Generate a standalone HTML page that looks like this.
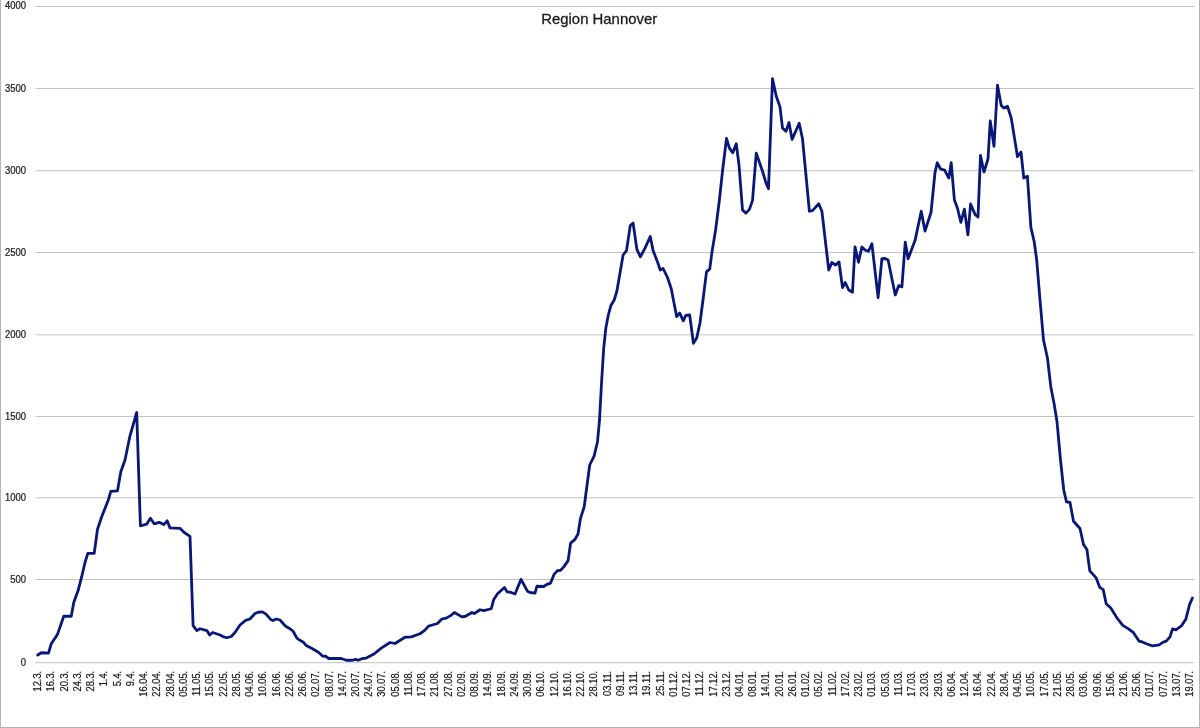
<!DOCTYPE html>
<html lang="de">
<head>
<meta charset="utf-8">
<title>Region Hannover</title>
<style>
html,body{margin:0;padding:0;background:#fff;}
body{width:1200px;height:728px;overflow:hidden;font-family:"Liberation Sans",sans-serif;}
svg{display:block;}
.g{fill:#c3c3c3;}
.yl{font-family:"Liberation Sans",sans-serif;font-size:10.7px;fill:#1c1c1c;stroke:#1c1c1c;stroke-width:0.25;text-anchor:end;}
.xl{font-family:"Liberation Sans",sans-serif;font-size:10.2px;fill:#1c1c1c;stroke:#1c1c1c;stroke-width:0.25;text-anchor:end;}
.t{font-family:"Liberation Sans",sans-serif;font-size:14.3px;fill:#1c1c1c;stroke:#1c1c1c;stroke-width:0.3;text-anchor:middle;}
</style>
</head>
<body>
<svg width="1200" height="728" viewBox="0 0 1200 728">
<rect x="0" y="0" width="1200" height="728" fill="#ffffff"/>
<g id="border">
<rect x="0" y="0" width="1" height="728" fill="#b4b4b4"/>
<rect x="1199" y="0" width="1" height="728" fill="#b4b4b4"/>
<rect x="0" y="727" width="1200" height="1" fill="#b4b4b4"/>
</g>
<g id="grid">
<rect class="g" x="35.5" y="6.00" width="1158.5" height="1"/>
<rect class="g" x="35.5" y="88.00" width="1158.5" height="1"/>
<rect class="g" x="35.5" y="170.25" width="1158.5" height="1"/>
<rect class="g" x="35.5" y="252.00" width="1158.5" height="1"/>
<rect class="g" x="35.5" y="334.35" width="1158.5" height="1"/>
<rect class="g" x="35.5" y="416.00" width="1158.5" height="1"/>
<rect class="g" x="35.5" y="497.25" width="1158.5" height="1"/>
<rect class="g" x="35.5" y="579.00" width="1158.5" height="1"/>
<rect class="g" x="35.5" y="662.20" width="1158.5" height="1"/>
</g>
<g id="ylabels">
<text class="yl" transform="translate(26 9.2) scale(0.885 1)">4000</text>
<text class="yl" transform="translate(26 91.8) scale(0.885 1)">3500</text>
<text class="yl" transform="translate(26 174.1) scale(0.885 1)">3000</text>
<text class="yl" transform="translate(26 255.8) scale(0.885 1)">2500</text>
<text class="yl" transform="translate(26 338.2) scale(0.885 1)">2000</text>
<text class="yl" transform="translate(26 419.8) scale(0.885 1)">1500</text>
<text class="yl" transform="translate(26 501.1) scale(0.885 1)">1000</text>
<text class="yl" transform="translate(26 582.8) scale(0.885 1)">500</text>
<text class="yl" transform="translate(26 666.0) scale(0.885 1)">0</text>
</g>
<text class="t" x="599.2" y="24.0" textLength="116" lengthAdjust="spacingAndGlyphs">Region Hannover</text>
<g id="xlabels">
<text class="xl" transform="translate(41.20 670.8) rotate(-90) scale(0.915 1)">12.3.</text>
<text class="xl" transform="translate(54.44 670.8) rotate(-90) scale(0.915 1)">16.3.</text>
<text class="xl" transform="translate(67.68 670.8) rotate(-90) scale(0.915 1)">20.3.</text>
<text class="xl" transform="translate(80.92 670.8) rotate(-90) scale(0.915 1)">24.3.</text>
<text class="xl" transform="translate(94.17 670.8) rotate(-90) scale(0.915 1)">28.3.</text>
<text class="xl" transform="translate(107.41 670.8) rotate(-90) scale(0.915 1)">1.4.</text>
<text class="xl" transform="translate(120.65 670.8) rotate(-90) scale(0.915 1)">5.4.</text>
<text class="xl" transform="translate(133.89 670.8) rotate(-90) scale(0.915 1)">9.4.</text>
<text class="xl" transform="translate(147.13 670.8) rotate(-90) scale(0.915 1)">16.04.</text>
<text class="xl" transform="translate(160.37 670.8) rotate(-90) scale(0.915 1)">22.04.</text>
<text class="xl" transform="translate(173.61 670.8) rotate(-90) scale(0.915 1)">28.04.</text>
<text class="xl" transform="translate(186.86 670.8) rotate(-90) scale(0.915 1)">05.05.</text>
<text class="xl" transform="translate(200.10 670.8) rotate(-90) scale(0.915 1)">11.05.</text>
<text class="xl" transform="translate(213.34 670.8) rotate(-90) scale(0.915 1)">15.05.</text>
<text class="xl" transform="translate(226.58 670.8) rotate(-90) scale(0.915 1)">22.05.</text>
<text class="xl" transform="translate(239.82 670.8) rotate(-90) scale(0.915 1)">28.05.</text>
<text class="xl" transform="translate(253.06 670.8) rotate(-90) scale(0.915 1)">04.06.</text>
<text class="xl" transform="translate(266.30 670.8) rotate(-90) scale(0.915 1)">10.06.</text>
<text class="xl" transform="translate(279.54 670.8) rotate(-90) scale(0.915 1)">16.06.</text>
<text class="xl" transform="translate(292.79 670.8) rotate(-90) scale(0.915 1)">22.06.</text>
<text class="xl" transform="translate(306.03 670.8) rotate(-90) scale(0.915 1)">26.06.</text>
<text class="xl" transform="translate(319.27 670.8) rotate(-90) scale(0.915 1)">02.07.</text>
<text class="xl" transform="translate(332.51 670.8) rotate(-90) scale(0.915 1)">08.07.</text>
<text class="xl" transform="translate(345.75 670.8) rotate(-90) scale(0.915 1)">14.07.</text>
<text class="xl" transform="translate(358.99 670.8) rotate(-90) scale(0.915 1)">20.07.</text>
<text class="xl" transform="translate(372.23 670.8) rotate(-90) scale(0.915 1)">24.07.</text>
<text class="xl" transform="translate(385.48 670.8) rotate(-90) scale(0.915 1)">30.07.</text>
<text class="xl" transform="translate(398.72 670.8) rotate(-90) scale(0.915 1)">05.08.</text>
<text class="xl" transform="translate(411.96 670.8) rotate(-90) scale(0.915 1)">11.08.</text>
<text class="xl" transform="translate(425.20 670.8) rotate(-90) scale(0.915 1)">17.08.</text>
<text class="xl" transform="translate(438.44 670.8) rotate(-90) scale(0.915 1)">21.08.</text>
<text class="xl" transform="translate(451.68 670.8) rotate(-90) scale(0.915 1)">27.08.</text>
<text class="xl" transform="translate(464.92 670.8) rotate(-90) scale(0.915 1)">02.09.</text>
<text class="xl" transform="translate(478.17 670.8) rotate(-90) scale(0.915 1)">08.09.</text>
<text class="xl" transform="translate(491.41 670.8) rotate(-90) scale(0.915 1)">14.09.</text>
<text class="xl" transform="translate(504.65 670.8) rotate(-90) scale(0.915 1)">18.09.</text>
<text class="xl" transform="translate(517.89 670.8) rotate(-90) scale(0.915 1)">24.09.</text>
<text class="xl" transform="translate(531.13 670.8) rotate(-90) scale(0.915 1)">30.09.</text>
<text class="xl" transform="translate(544.37 670.8) rotate(-90) scale(0.915 1)">06.10.</text>
<text class="xl" transform="translate(557.61 670.8) rotate(-90) scale(0.915 1)">12.10.</text>
<text class="xl" transform="translate(570.86 670.8) rotate(-90) scale(0.915 1)">16.10.</text>
<text class="xl" transform="translate(584.10 670.8) rotate(-90) scale(0.915 1)">22.10.</text>
<text class="xl" transform="translate(597.34 670.8) rotate(-90) scale(0.915 1)">28.10.</text>
<text class="xl" transform="translate(610.58 670.8) rotate(-90) scale(0.915 1)">03.11.</text>
<text class="xl" transform="translate(623.82 670.8) rotate(-90) scale(0.915 1)">09.11.</text>
<text class="xl" transform="translate(637.06 670.8) rotate(-90) scale(0.915 1)">13.11.</text>
<text class="xl" transform="translate(650.30 670.8) rotate(-90) scale(0.915 1)">19.11.</text>
<text class="xl" transform="translate(663.54 670.8) rotate(-90) scale(0.915 1)">25.11.</text>
<text class="xl" transform="translate(676.79 670.8) rotate(-90) scale(0.915 1)">01.12.</text>
<text class="xl" transform="translate(690.03 670.8) rotate(-90) scale(0.915 1)">07.12.</text>
<text class="xl" transform="translate(703.27 670.8) rotate(-90) scale(0.915 1)">11.12.</text>
<text class="xl" transform="translate(716.51 670.8) rotate(-90) scale(0.915 1)">17.12.</text>
<text class="xl" transform="translate(729.75 670.8) rotate(-90) scale(0.915 1)">23.12.</text>
<text class="xl" transform="translate(742.99 670.8) rotate(-90) scale(0.915 1)">04.01.</text>
<text class="xl" transform="translate(756.23 670.8) rotate(-90) scale(0.915 1)">08.01.</text>
<text class="xl" transform="translate(769.48 670.8) rotate(-90) scale(0.915 1)">14.01.</text>
<text class="xl" transform="translate(782.72 670.8) rotate(-90) scale(0.915 1)">20.01.</text>
<text class="xl" transform="translate(795.96 670.8) rotate(-90) scale(0.915 1)">26.01.</text>
<text class="xl" transform="translate(809.20 670.8) rotate(-90) scale(0.915 1)">01.02.</text>
<text class="xl" transform="translate(822.44 670.8) rotate(-90) scale(0.915 1)">05.02.</text>
<text class="xl" transform="translate(835.68 670.8) rotate(-90) scale(0.915 1)">11.02.</text>
<text class="xl" transform="translate(848.92 670.8) rotate(-90) scale(0.915 1)">17.02.</text>
<text class="xl" transform="translate(862.17 670.8) rotate(-90) scale(0.915 1)">23.02.</text>
<text class="xl" transform="translate(875.41 670.8) rotate(-90) scale(0.915 1)">01.03.</text>
<text class="xl" transform="translate(888.65 670.8) rotate(-90) scale(0.915 1)">05.03.</text>
<text class="xl" transform="translate(901.89 670.8) rotate(-90) scale(0.915 1)">11.03.</text>
<text class="xl" transform="translate(915.13 670.8) rotate(-90) scale(0.915 1)">17.03.</text>
<text class="xl" transform="translate(928.37 670.8) rotate(-90) scale(0.915 1)">23.03.</text>
<text class="xl" transform="translate(941.61 670.8) rotate(-90) scale(0.915 1)">29.03.</text>
<text class="xl" transform="translate(954.86 670.8) rotate(-90) scale(0.915 1)">06.04.</text>
<text class="xl" transform="translate(968.10 670.8) rotate(-90) scale(0.915 1)">12.04.</text>
<text class="xl" transform="translate(981.34 670.8) rotate(-90) scale(0.915 1)">16.04.</text>
<text class="xl" transform="translate(994.58 670.8) rotate(-90) scale(0.915 1)">22.04.</text>
<text class="xl" transform="translate(1007.82 670.8) rotate(-90) scale(0.915 1)">28.04.</text>
<text class="xl" transform="translate(1021.06 670.8) rotate(-90) scale(0.915 1)">04.05.</text>
<text class="xl" transform="translate(1034.30 670.8) rotate(-90) scale(0.915 1)">10.05.</text>
<text class="xl" transform="translate(1047.54 670.8) rotate(-90) scale(0.915 1)">17.05.</text>
<text class="xl" transform="translate(1060.79 670.8) rotate(-90) scale(0.915 1)">21.05.</text>
<text class="xl" transform="translate(1074.03 670.8) rotate(-90) scale(0.915 1)">28.05.</text>
<text class="xl" transform="translate(1087.27 670.8) rotate(-90) scale(0.915 1)">03.06.</text>
<text class="xl" transform="translate(1100.51 670.8) rotate(-90) scale(0.915 1)">09.06.</text>
<text class="xl" transform="translate(1113.75 670.8) rotate(-90) scale(0.915 1)">15.06.</text>
<text class="xl" transform="translate(1126.99 670.8) rotate(-90) scale(0.915 1)">21.06.</text>
<text class="xl" transform="translate(1140.23 670.8) rotate(-90) scale(0.915 1)">25.06.</text>
<text class="xl" transform="translate(1153.48 670.8) rotate(-90) scale(0.915 1)">01.07.</text>
<text class="xl" transform="translate(1166.72 670.8) rotate(-90) scale(0.915 1)">07.07.</text>
<text class="xl" transform="translate(1179.96 670.8) rotate(-90) scale(0.915 1)">13.07.</text>
<text class="xl" transform="translate(1193.20 670.8) rotate(-90) scale(0.915 1)">19.07.</text>
</g>
<polyline fill="none" stroke="#091878" stroke-width="2.8" stroke-linejoin="round" stroke-linecap="round" points="37.75,655 41.25,652.75 48.5,653.1 51.25,643.75 57.5,634.4 63.75,616.25 71.25,616.25 73.75,602.5 78.1,590.6 81.7,576.7 85,562.5 87.8,553.3 94.2,553.3 97.5,529.2 101.7,516.7 108.3,500 110.8,491.3 117.5,490.8 120.8,471.7 125,460 130,435.8 136.7,412.5 140.4,525.8 146.7,524.2 150.4,518.2 154.2,523.8 159.2,522.3 163.8,524.6 167.1,520.8 170,527.9 180,528.3 184.2,532.5 190,536.3 193.1,625.6 196.9,630.6 200,628.75 206.9,630.6 209.6,635 212.75,632.5 220,635 223.75,636.9 226.9,637.75 231.25,636.5 235,632.5 240,625 245.6,620.4 250,619 255,613.5 258.1,612.25 262.5,611.9 266.25,614.4 270.6,619.4 273.1,620.6 276.25,619 280,620 285.6,626.25 290,628.75 293.1,631.25 296.9,638.1 299.4,640 303.1,641.9 306.25,645.6 312.5,648.75 318.75,652.5 322.5,656 325.6,656.25 328.75,658.5 341.25,658.5 346.25,660.25 352.5,660.25 355.6,659.4 358.1,660.25 362.5,658.5 366.25,658.1 374.4,653.75 381.25,648.1 390,642.5 395,643.5 405,637.25 411.25,636.9 420,633.75 424.4,630.6 428.75,626 437.5,623.5 441.9,619 446.25,618.1 450.6,615.6 454.4,612.5 461.9,616.9 465.6,616.25 471.9,612.5 474.4,613.5 480,609.75 483.75,610.6 491.25,608.75 493.75,599.4 497.5,593.75 504.4,587.5 507.25,591.9 510.6,592.25 515,594 521,579.4 527.5,591.25 530,592.5 535,593.1 536.9,586.25 543.75,586.5 546.9,584.4 550.6,583.1 554,574.4 557.5,570.6 560.6,570.25 563.75,566.9 568.1,560.6 570.6,543.1 575,539.4 578.1,533.75 580.3,519.2 584.2,506.7 589.7,465 594.2,455.8 597.5,441.7 599.5,420 601.7,380 603.7,348.3 605.8,328.3 608.3,315 610.8,305.8 614.2,300 616.9,291 623.1,255 626.5,250.6 630.25,225.6 633.1,223.1 636.9,249.4 640.4,256.9 645,248.1 650.25,236.5 653.1,250.6 657.5,261.9 660.25,270 663.1,268.5 667.5,277.5 671.25,288.75 676.7,316.7 679.7,313 683.3,320.8 685.8,315.3 689.7,315 693.4,343.3 696.7,338 700,323 703.3,297.5 706.5,271.9 709.8,268.9 711.9,252.5 715.6,230 719.4,200 722.5,171.25 726.5,138.5 729.4,148.1 732.75,152.75 736.25,143.75 739,165 742.5,210 746,213.1 749.4,209.4 752.5,200.6 756.25,153.1 762.5,171.25 766.25,183.75 768.5,188.75 772.5,78.75 776.25,96.25 780,106.9 782.5,128.1 786,131.25 789,122.5 792.1,139.4 799.2,123.3 802.5,138.75 809.4,211.25 812.5,210.6 818.75,203.75 821.9,211.25 828.75,270 831.9,262.5 835.6,265 839,261.9 842.5,287.5 845.25,282.5 848.75,290 852.5,292.25 855,246.9 858.5,262.25 861.9,246.9 865,250 868.5,251.25 871.9,243.75 878.1,297.5 881.9,258.75 885,258.5 888.1,260 895.25,295 898.75,285.6 901.9,286.9 905.25,242.25 908.1,258.75 915,240.6 921.25,211.25 925,231 931,212.5 935,172.5 937.25,162.75 940.6,169 944.6,170.2 948.8,178.1 951.2,162.7 954.4,200 957.5,208.2 960.8,222.3 964.4,209.2 967.9,234.9 970.6,204 975,214.4 978,217 980.5,155.5 984,172 988,159 990.25,121 994,146.25 997.5,85.25 1001.25,105.6 1003.75,108.1 1007.5,106.25 1011.25,118.1 1017.5,156.7 1021,152 1023.8,178.1 1027.4,176.2 1030.9,227.6 1034.2,241.7 1036.7,260 1040,300 1043.5,340 1047.5,358.3 1050.8,386.7 1054.2,404.2 1057,421.7 1060.5,460 1063.75,490 1066.5,501.9 1070,502.5 1073.5,521.25 1080,528.5 1083.5,544.5 1086.9,549.5 1089.8,570.9 1096.2,577.9 1099.7,587.3 1103.2,589.6 1106.2,603.7 1111,608.3 1117,618 1122.8,625.4 1128.5,628.9 1133.5,632.7 1139,641.1 1142.3,641.9 1146.9,644 1152.4,645.9 1159.1,644.8 1162.9,642.3 1166.2,641.1 1170,636.9 1172.5,628.9 1175.9,629.8 1181.7,625.6 1185.9,618.9 1189.7,604.2 1192.4,598"/>
</svg>
</body>
</html>
